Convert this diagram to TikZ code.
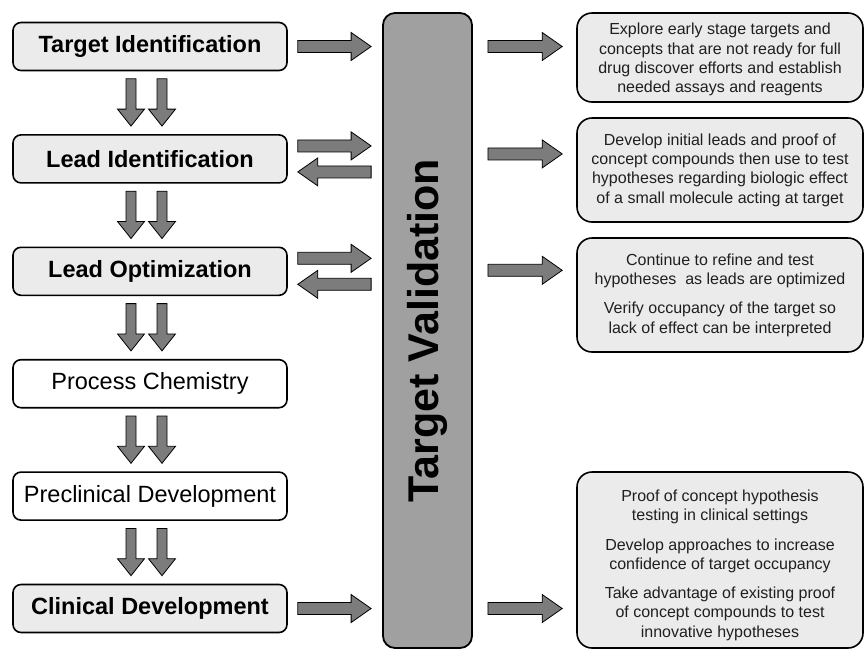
\documentclass[tikz,border=0pt]{standalone}
\usepackage{fontspec}
\setmainfont{Liberation Sans}
\usetikzlibrary{calc}
\definecolor{boxgray}{HTML}{EBEBEB}
\definecolor{bargray}{HTML}{A0A0A0}
\definecolor{arrgray}{HTML}{7C7C7C}
\tikzset{
  stage/.style={draw=black, line width=1.6pt, rounded corners=8pt, minimum width=274pt, minimum height=48pt, inner sep=0pt, font=\fontsize{23.5}{27}\selectfont},
  keystage/.style={stage, fill=boxgray, font=\fontsize{23.5}{27}\selectfont\bfseries},
  plainstage/.style={stage, fill=white},
  note/.style={draw=black, line width=1.6pt, rounded corners=15pt, fill=boxgray, minimum width=286pt, inner sep=0pt, align=center, font=\fontsize{16}{19.3}\selectfont, text=black!88},
  blk/.style={draw=black, line width=0.8pt, fill=arrgray},
}
% block arrow pointing right or left between two points at the same height
\newcommand\blockH[2]{%
  \draw[blk] let \p1=(#1), \p2=(#2), \n1={ifthenelse(\x2>\x1,1,-1)*20pt} in
    (\x1,\y1+6pt) -- (\x2-\n1,\y1+6pt) -- (\x2-\n1,\y1+14pt) -- (\x2,\y1)
    -- (\x2-\n1,\y1-14pt) -- (\x2-\n1,\y1-6pt) -- (\x1,\y1-6pt) -- cycle;}
% block arrow pointing down between two points at the same x
\newcommand\blockV[2]{%
  \draw[blk] let \p1=(#1), \p2=(#2) in
    (\x1-5pt,\y1) -- (\x1-5pt,\y2+17pt) -- (\x1-13.5pt,\y2+17pt) -- (\x1,\y2)
    -- (\x1+13.5pt,\y2+17pt) -- (\x1+5pt,\y2+17pt) -- (\x1+5pt,\y1) -- cycle;}
\begin{document}
\begin{tikzpicture}[x=1pt,y=-1pt]
\useasboundingbox (0,0) rectangle (866,654);
% left column
\node[keystage]   (ti) at (150,46.5)  {Target Identification};
\node[keystage]   (li) at (150,158.9) {Lead Identification};
\node[keystage]   (lo) at (150,271.3) {Lead Optimization};
\node[plainstage] (pc) at (150,383.7) {Process Chemistry};
\node[plainstage] (pd) at (150,496.1) {Preclinical Development};
\node[keystage]   (cd) at (150,608.5) {Clinical Development};
% central bar
\node[draw=black, line width=1.8pt, rounded corners=12pt, fill=bargray, minimum width=89pt, minimum height=635pt, inner sep=0pt] (tv) at (427.5,330.5) {};
\node[rotate=90, font=\fontsize{43}{50}\selectfont\bfseries] (tvlabel) at (tv.center) {Target Validation};
% right notes
\node[note, minimum height=89pt] (r1) at (720,57.5)
  {\rule{0pt}{16pt}Explore early stage targets and\\concepts that are not ready for full\\drug discover efforts and establish\\needed assays and reagents};
\node[note, minimum height=104pt] (r2) at (720,170)
  {Develop initial leads and proof of\\concept compounds then use to test\\hypotheses regarding biologic effect\\of a small molecule acting at target};
\node[note, minimum height=114pt] (r3) at (720,295)
  {Continue to refine and test\\hypotheses\ \ as leads are optimized\\[10pt]Verify occupancy of the target so\\lack of effect can be interpreted};
\node[note, minimum height=176pt] (r4) at (720,560)
  {\rule{0pt}{22pt}Proof of concept hypothesis\\testing in clinical settings\\[10pt]Develop approaches to increase\\confidence of target occupancy\\[10pt]Take advantage of existing proof\\of concept compounds to test\\innovative hypotheses};
% down arrows
\foreach \a/\b in {ti/li, li/lo, lo/pc, pc/pd, pd/cd}{
  \foreach \dx in {-19,12}{
    \blockV{$(\a.south)+(\dx,7.5)$}{$(\b.north)+(\dx,-8)$}
  }
}
% arrows from stages to the bar
\blockH{$(ti.east)+(10,0)$}{$(ti.east -| tv.west)+(-11,0)$}
\blockH{$(li.east)+(10,-13)$}{$(li.east -| tv.west)+(-11,-13)$}
\blockH{$(li.east -| tv.west)+(-11,13)$}{$(li.east)+(10,13)$}
\blockH{$(lo.east)+(10,-13)$}{$(lo.east -| tv.west)+(-11,-13)$}
\blockH{$(lo.east -| tv.west)+(-11,13)$}{$(lo.east)+(10,13)$}
\blockH{$(cd.east)+(10,0)$}{$(cd.east -| tv.west)+(-11,0)$}
% arrows from the bar to the notes
\blockH{$(ti.east -| tv.east)+(15,0)$}{$(ti.east -| r1.west)+(-14,0)$}
\blockH{$(li.east -| tv.east)+(15,-5)$}{$(li.east -| r2.west)+(-14,-5)$}
\blockH{$(lo.east -| tv.east)+(15,-1)$}{$(lo.east -| r3.west)+(-14,-1)$}
\blockH{$(cd.east -| tv.east)+(15,0)$}{$(cd.east -| r4.west)+(-14,0)$}
\end{tikzpicture}
\end{document}
